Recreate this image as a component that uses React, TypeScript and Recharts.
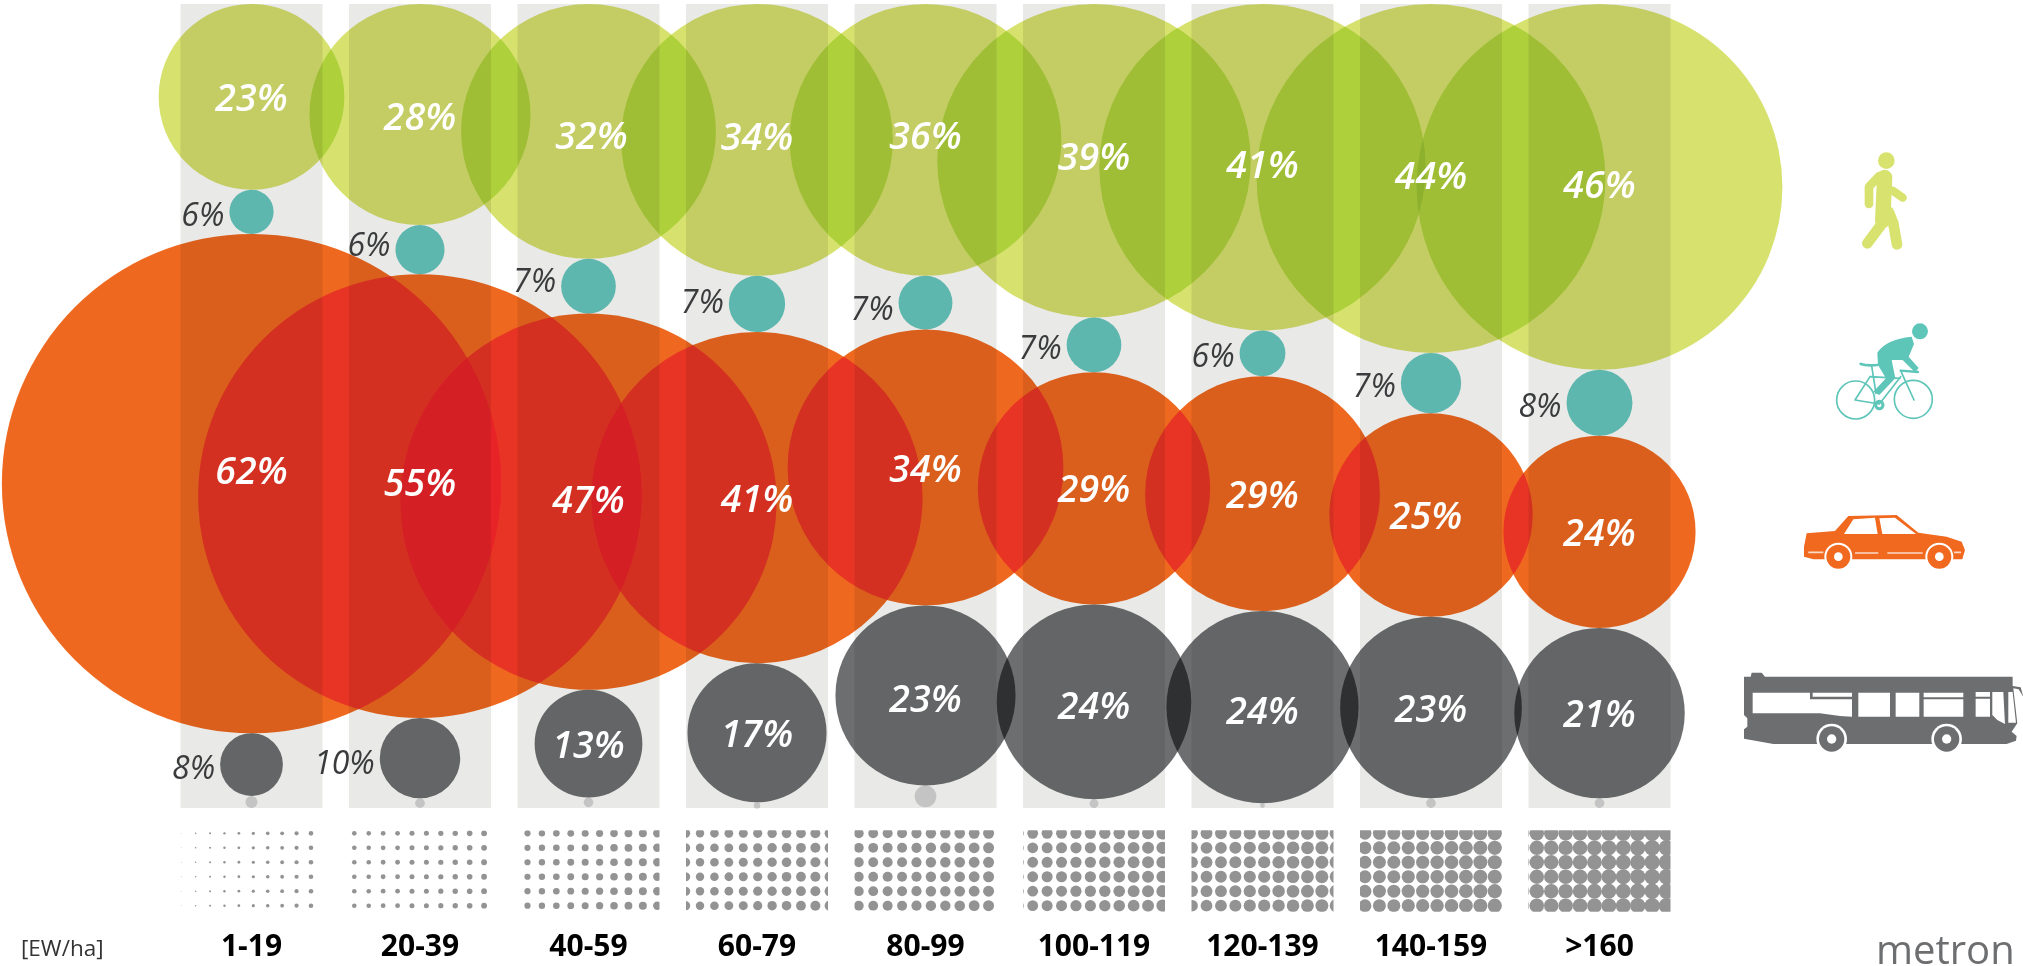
import { ScatterChart, Scatter, XAxis, YAxis, ReferenceArea } from 'recharts';

const densityLabels = ['1-19', '20-39', '40-59', '60-79', '80-99', '100-119', '120-139', '140-159', '>160'];

// diameters (unrounded shares, they stack to 100 per column)
const walkShare = [23.1, 27.5, 31.7, 33.8, 33.8, 39, 40.6, 43.4, 45.5];
const cycleShare = [5.5, 6.1, 6.8, 7, 6.7, 6.8, 5.7, 7.5, 8.2];
const carShare = [62.1, 55.2, 46.8, 41.2, 34.3, 28.9, 29.2, 25.3, 23.9];
const transitShare = [7.8, 10, 13.4, 17.3, 22.4, 24.2, 23.9, 22.6, 21.2];
const otherShare = [1.5, 1.2, 1.2, 0.8, 2.7, 1.1, 0.6, 1.2, 1.2];

// printed labels
const walkLabels = [23, 28, 32, 34, 36, 39, 41, 44, 46];
const cycleLabels = [6, 6, 7, 7, 7, 7, 6, 7, 8];
const carLabels = [62, 55, 47, 41, 34, 29, 29, 25, 24];
const transitLabels = [8, 10, 13, 17, 23, 24, 24, 23, 21];

// density texture: dot size per grid column for each density class
const dotSizes = [
  [0, 0.4, 0.8, 1, 1.2, 1.4, 1.6, 1.8, 1.9, 2.1, 2.3, 0],
  [0, 2.3, 2.3, 2.4, 2.4, 2.5, 2.5, 2.6, 2.7, 2.8, 2.9, 0],
  [3, 3.1, 3.2, 3.3, 3.4, 3.5, 3.6, 3.8, 3.9, 4, 4.2, 0],
  [0, 4.6, 4.2, 4.3, 4.4, 4.5, 4.6, 4.7, 4.8, 4.9, 5, 5.2],
  [0, 4.9, 4.9, 5, 5, 5.1, 5.2, 5.2, 5.3, 5.4, 5.5, 0],
  [5.4, 5.4, 5.5, 5.5, 5.6, 5.6, 5.7, 5.8, 5.9, 6, 6.1, 0],
  [0, 5.8, 5.9, 5.9, 6, 6.1, 6.1, 6.2, 6.3, 6.4, 6.5, 6.6],
  [6.4, 6.4, 6.5, 6.5, 6.6, 6.6, 6.7, 6.8, 6.9, 7, 7.1, 0],
  [7, 7.2, 7.2, 7.3, 7.3, 7.4, 7.4, 7.5, 7.6, 7.7, 7.8, 7.9],
];
const dotPhase = [0.7, 5.3, 10, -0.4, 4.3, 9.7, 0.6, 5, 8.3];
const dotRows = [206.3, 209.9, 213.5, 217.1, 220.7, 224.3];

const WIDTH = 2023;
const HEIGHT = 966;
const COL_STEP = 168.5;
const BAND_WIDTH = 142;
const DOT_STEP = 14.42;
const PX_PER_UNIT = 804 / 200;
const LABEL_FONT = '"Open Sans", "Noto Sans", sans-serif';

const WALK = '#D8E26F';
const CYCLE = '#66C9C0';
const CAR = '#F0691F';
const TRANSIT = '#6D6E70';
const OTHER = '#D6D7D8';

// the labels were placed by hand in the original: [dx, dy] off the circle centre, by "row-col"
const LABEL_NUDGE: Record<string, number[]> = {
  '0-1': [0, 1], '0-2': [3, 4], '0-3': [0, -4], '0-4': [0, -5], '0-5': [0, -5], '0-6': [0, -3], '0-7': [0, -3], '0-8': [0, -3],
  '1-1': [0, -8], '1-2': [0, -8], '1-3': [0, -5], '1-4': [0, 3],
  '2-0': [0, -14], '2-1': [0, -14], '2-2': [0, -3], '2-7': [-5, 0],
  '3-4': [0, 3], '3-5': [0, 3], '3-6': [0, 3], '3-1': [0, 2],
};

// overlaps are not a plain multiply in the original, so colour them by how many circles cover a pixel
const LAYER_ALPHA = 0.25;
const walkLayers = ['#FFFFFF', WALK, '#AFD13C', '#9BC232', '#92B82E'];
const carLayers = ['#FFFFFF', CAR, '#E93524', '#E92328', '#E21F26'];

const hexChannel = (hex: string, ch: number) => parseInt(hex.slice(1 + ch * 2, 3 + ch * 2), 16) / 255;

const layerTable = (colors: string[], ch: number) => {
  const stops = colors.map((_, n) => 1 - Math.pow(1 - LAYER_ALPHA, n));
  const out: string[] = [];
  for (let k = 0; k <= 80; k++) {
    const a = k / 80;
    let n = 0;
    while (n < stops.length - 2 && a > stops[n + 1]) n++;
    const t = Math.min(1, (a - stops[n]) / (stops[n + 1] - stops[n]));
    out.push((hexChannel(colors[n], ch) * (1 - t) + hexChannel(colors[n + 1], ch) * t).toFixed(4));
  }
  return out.join(' ');
};

const LayerFilter = ({ id, colors }: { id: string; colors: string[] }) => (
  <filter id={id} filterUnits="userSpaceOnUse" x={0} y={0} width={WIDTH} height={HEIGHT} colorInterpolationFilters="sRGB">
    <feColorMatrix type="matrix" values="0 0 0 1 0  0 0 0 1 0  0 0 0 1 0  0 0 0 0 1" />
    <feComponentTransfer>
      <feFuncR type="table" tableValues={layerTable(colors, 0)} />
      <feFuncG type="table" tableValues={layerTable(colors, 1)} />
      <feFuncB type="table" tableValues={layerTable(colors, 2)} />
    </feComponentTransfer>
  </filter>
);

// every column is a stack of circles, the y axis runs over the summed diameters
const stackCentre = (stacks: number[][], row: number, col: number) => {
  let before = 0;
  for (let i = 0; i < row; i++) before += 2 * stacks[i][col];
  return before + stacks[row][col];
};

const stacks = [walkShare, cycleShare, carShare, transitShare, otherShare];
const labels = [walkLabels, cycleLabels, carLabels, transitLabels];

const buildSeries = (row: number) =>
  densityLabels.map((_, col) => ({
    x: col,
    y: stackCentre(stacks, row, col),
    share: stacks[row][col],
    label: labels[row] ? labels[row][col] : null,
    key: `${row}-${col}`,
  }));

const labelPoints = [0, 1, 2, 3].flatMap((row) => buildSeries(row));

const dotPoints = dotSizes.flatMap((sizes, col) =>
  sizes.flatMap((size, i) => {
    const dx = dotPhase[col] + (i - 1) * DOT_STEP - BAND_WIDTH / 2;
    if (size <= 0) return [];
    return dotRows.map((y, row) => ({ x: col + dx / COL_STEP, y, size, dx, row, col, i }));
  })
);

const Bubble = (fill: string) => (props: any) => (
  <circle
    cx={props.cx}
    cy={props.cy}
    r={props.payload.share * PX_PER_UNIT}
    fill={fill}
    style={{ mixBlendMode: 'multiply' }}
  />
);

// goes through the layer filter, only coverage counts here
const CoverBubble = (props: any) => (
  <circle cx={props.cx} cy={props.cy} r={props.payload.share * PX_PER_UNIT} fill="#000000" fillOpacity={LAYER_ALPHA} />
);

const BubbleLabel = (props: any) => {
  const { cx, cy, payload } = props;
  const outside = payload.label < 12;
  const r = payload.share * PX_PER_UNIT;
  const [dx, dy] = LABEL_NUDGE[payload.key] || [0, 0];
  return (
    <text
      x={(outside ? cx - r - 5 : cx) + dx}
      y={cy + 14 + dy}
      textAnchor={outside ? 'end' : 'middle'}
      fontFamily={LABEL_FONT}
      fontStyle="italic"
      fontWeight={outside ? 400 : 600}
      fontSize={outside ? 32 : 37.5}
      fill={outside ? '#3A3B3D' : '#FFFFFF'}
    >
      {payload.label}%
    </text>
  );
};

const DensityDot = (props: any) => {
  const { cx, cy, payload } = props;
  const id = `dot-${payload.col}-${payload.i}-${payload.row}`;
  return (
    <g>
      <clipPath id={id}>
        <rect
          x={cx - payload.dx - BAND_WIDTH / 2}
          y={cy - payload.row * 14.45 - 3.2}
          width={BAND_WIDTH}
          height={81.5}
        />
      </clipPath>
      <circle cx={cx} cy={cy} r={payload.size} fill="#939393" clipPath={`url(#${id})`} />
    </g>
  );
};

const Icons = () => (
  <svg width={WIDTH} height={HEIGHT} style={{ position: 'absolute', left: 0, top: 0 }}>
    <defs>
      <LayerFilter id="walk-layers" colors={walkLayers} />
      <LayerFilter id="car-layers" colors={carLayers} />
    </defs>
    <text x={21} y={956} fontFamily={LABEL_FONT} fontSize={22.5} fill="#333333">
      [EW/ha]
    </text>
    <text x={1876} y={964} fontFamily={LABEL_FONT} fontSize={40} fill="#6D6E70">
      metron
    </text>

    {/* walker */}
    <g transform="translate(1780,130) scale(0.3333)" fill="none" stroke={WALK} strokeLinecap="round" strokeLinejoin="round">
      <circle cx={319} cy={92} r={25} fill={WALK} stroke="none" />
      <path d="M298,138 L267,170 L267,222" strokeWidth={26} />
      <path d="M338,182 L368,203" strokeWidth={25} />
      <path d="M314,142 L308,272" strokeWidth={46} />
      <path d="M303,285 L262,340" strokeWidth={32} />
      <path d="M326,245 L340,280 L351,343" strokeWidth={32} />
    </g>

    {/* cyclist */}
    <g transform="translate(1780,130) scale(0.3333)" fill="none" stroke="#5EC5B9" strokeWidth={5} strokeLinecap="round">
      <circle cx={420} cy={604} r={24} fill="#5EC5B9" stroke="none" />
      <circle cx={227} cy={810} r={57} />
      <circle cx={400} cy={808} r={57} />
      <path
        d="M292,668 Q318,628 395,620 L402,642 L386,680 L416,714 L405,727 L368,690 L335,690 L346,745 L298,795 L280,785 L318,745 L294,705 Z"
        fill="#5EC5B9"
        stroke="none"
      />
      <path d="M242,702 Q260,708 292,705" strokeWidth={8} />
      <path d="M362,722 L414,726" strokeWidth={7} />
      <path d="M275,708 L288,790 M225,810 L298,822 M298,822 L362,740 M270,740 L360,745 M225,810 L270,740 M362,722 L402,810" />
      <circle cx={298} cy={825} r={11} fill="none" strokeWidth={9} />
    </g>

    {/* car */}
    <g transform="translate(1780,490) scale(0.3333)">
      <path
        d="M72,170 L80,130 L165,123 L205,78 L350,75 L415,128 L500,140 L545,155 L555,180 L547,208 L100,208 L72,200 Z"
        fill={CAR}
      />
      <path d="M192,132 L220,88 L285,83 L293,132 Z M307,132 L298,85 L345,83 L408,132 Z" fill="#FFFFFF" />
      <path d="M225,189 L295,189 M322,189 L428,189 M85,187 L130,187 M522,187 L543,187" stroke="#FAD9C6" strokeWidth={5} />
      {[175, 478].map((x) => (
        <g key={x}>
          <circle cx={x} cy={200} r={42} fill="#FFFFFF" />
          <circle cx={x} cy={200} r={36} fill={CAR} />
          <circle cx={x} cy={200} r={13} fill="#FFFFFF" />
        </g>
      ))}
    </g>

    {/* bus */}
    <g transform="translate(1730,660) scale(0.3333)">
      <path
        d="M42,50 L62,50 L65,38 L95,38 L105,50 L848,50 L848,78 L872,82 L880,110 L866,88 L850,85 L862,190 L845,215 L860,228 L858,242 L830,252 L130,252 L42,236 Z"
        fill={TRANSIT}
      />
      <path
        d="M68,98 L240,98 L240,118 L366,118 L366,170 L330,168 L270,160 L68,160 Z M248,98 H366 V110 H248 Z M385,98 H480 V170 H385 Z M497,98 H568 V170 H497 Z M581,98 H700 V112 H581 Z M581,118 H700 V170 H581 Z M737,96 H780 V110 H737 Z M737,116 H780 V170 H737 Z M787,96 L820,96 L825,192 L802,180 L787,165 Z M835,96 L848,96 L858,188 L835,188 Z M42,165 L52,175 L52,200 L42,208 Z"
        fill="#FFFFFF"
      />
      {[305, 650].map((x) => (
        <g key={x}>
          <circle cx={x} cy={237} r={46} fill="#FFFFFF" />
          <circle cx={x} cy={237} r={38} fill={TRANSIT} />
          <circle cx={x} cy={237} r={14} fill="#FFFFFF" />
        </g>
      ))}
    </g>
  </svg>
);

export default function App() {
  return (
    <div style={{ position: 'absolute', left: 0, top: 0, width: WIDTH, height: HEIGHT, overflow: 'hidden', background: '#FFFFFF' }}>
      <style>{`
        .walk-bubbles { filter: url(#walk-layers); mix-blend-mode: multiply; }
        .car-bubbles { filter: url(#car-layers); mix-blend-mode: multiply; }
      `}</style>
      <ScatterChart
        width={WIDTH}
        height={HEIGHT}
        margin={{ top: 4, left: 167.25, right: 339.25, bottom: 0 }}
      >
        <XAxis
          type="number"
          dataKey="x"
          domain={[-0.5, 8.5]}
          ticks={densityLabels.map((_, i) => i)}
          tickFormatter={(i: number) => densityLabels[i]}
          interval={0}
          axisLine={false}
          tickLine={false}
          tickSize={0}
          tickMargin={6}
          height={37.4}
          tick={{ fontFamily: LABEL_FONT, fontSize: 30, fontWeight: 700, fill: '#000000' }}
        />
        <YAxis type="number" dataKey="y" domain={[0, 230]} reversed hide />
        {densityLabels.map((_, i) => (
          <ReferenceArea
            key={i}
            x1={i - BAND_WIDTH / 2 / COL_STEP}
            x2={i + BAND_WIDTH / 2 / COL_STEP}
            y1={0}
            y2={200}
            fill="#E9E9E7"
            fillOpacity={1}
            stroke="none"
          />
        ))}
        <Scatter className="walk-bubbles" data={buildSeries(0)} shape={CoverBubble} isAnimationActive={false} />
        <Scatter data={buildSeries(1)} shape={Bubble(CYCLE)} isAnimationActive={false} />
        <Scatter className="car-bubbles" data={buildSeries(2)} shape={CoverBubble} isAnimationActive={false} />
        <Scatter data={buildSeries(3)} shape={Bubble(TRANSIT)} isAnimationActive={false} />
        <Scatter data={buildSeries(4)} shape={Bubble(OTHER)} isAnimationActive={false} />
        <Scatter data={labelPoints} shape={BubbleLabel} isAnimationActive={false} />
        <Scatter data={dotPoints} shape={DensityDot} isAnimationActive={false} />
      </ScatterChart>
      <Icons />
    </div>
  );
}
